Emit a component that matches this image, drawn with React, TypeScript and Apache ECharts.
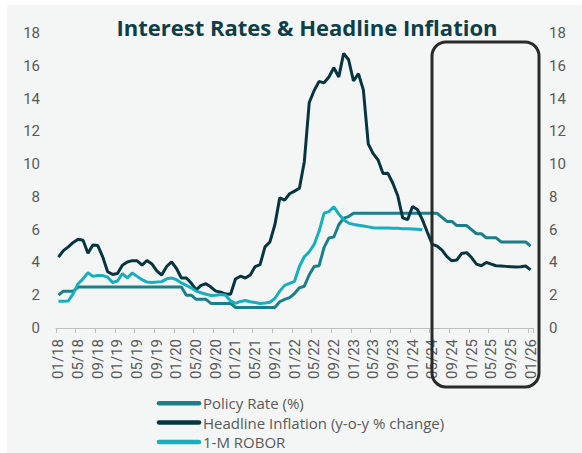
import React, { useEffect, useRef } from "react";
import * as echarts from "echarts";

const years = ["18", "19", "20", "21", "22", "23", "24", "25", "26"];
const months = ["01", "02", "03", "04", "05", "06", "07", "08", "09", "10", "11", "12"];
const categories: string[] = [];
years.forEach((y, yi) => {
  months.forEach((m, mi) => {
    if (yi < years.length - 1 || mi === 0) categories.push(`${m}/${y}`);
  });
});

const yTicks = [0, 18, 2];

const policyRate = [
  2.0, 2.25, 2.25, 2.25, 2.5, 2.5, 2.5, 2.5, 2.5, 2.5, 2.5, 2.5,
  2.5, 2.5, 2.5, 2.5, 2.5, 2.5, 2.5, 2.5, 2.5, 2.5, 2.5, 2.5,
  2.5, 2.5, 2.0, 2.0, 1.75, 1.75, 1.75, 1.5, 1.5, 1.5, 1.5, 1.5,
  1.25, 1.25, 1.25, 1.25, 1.25, 1.25, 1.25, 1.25, 1.25, 1.6, 1.75, 1.85,
  2.1, 2.45, 2.55, 3.25, 3.75, 3.8, 4.9, 5.5, 5.55, 6.3, 6.7, 6.8,
  7.0, 7.0, 7.0, 7.0, 7.0, 7.0, 7.0, 7.0, 7.0, 7.0, 7.0, 7.0,
  7.0, 7.0, 7.0, 7.0, 7.0, 7.0, 6.75, 6.5, 6.5, 6.25, 6.25, 6.25,
  6.0, 5.75, 5.75, 5.5, 5.5, 5.5, 5.25, 5.25, 5.25, 5.25, 5.25, 5.25,
  5.0,
];

const headlineInflation = [
  4.32, 4.72, 4.95, 5.22, 5.41, 5.36, 4.56, 5.07, 5.03, 4.34, 3.43, 3.27,
  3.32, 3.83, 4.03, 4.11, 4.1, 3.84, 4.12, 3.91, 3.49, 3.23, 3.75, 4.04,
  3.63, 3.05, 3.05, 2.74, 2.33, 2.6, 2.7, 2.5, 2.25, 2.19, 2.07, 2.06,
  2.99, 3.16, 3.05, 3.24, 3.75, 3.87, 4.95, 5.25, 6.29, 7.94, 7.8, 8.19,
  8.35, 8.53, 10.15, 13.76, 14.49, 15.05, 14.96, 15.32, 15.88, 15.32, 16.76, 16.37,
  15.07, 15.52, 14.53, 11.23, 10.64, 10.25, 9.43, 9.44, 8.83, 8.07, 6.72, 6.61,
  7.41, 7.23, 6.61, 5.86, 5.12, 5.0, 4.75, 4.35, 4.1, 4.15, 4.55, 4.6,
  4.3, 3.9, 3.8, 4.0, 3.9, 3.8, 3.78, 3.76, 3.74, 3.72, 3.74, 3.78,
  3.55,
];

const robor1m = [
  1.63, 1.63, 1.65, 2.1, 2.7, 3.0, 3.38, 3.15, 3.2, 3.2, 3.1, 2.78,
  2.87, 3.32, 3.06, 3.35, 3.15, 2.95, 2.8, 2.78, 2.8, 2.83, 3.0, 3.05,
  2.95, 2.75, 2.6, 2.45, 2.25, 2.15, 2.06, 1.98, 2.0, 2.04, 2.0, 1.65,
  1.5, 1.62, 1.68, 1.6, 1.55, 1.5, 1.53, 1.57, 1.8, 2.25, 2.6, 2.72,
  2.85, 3.75, 4.35, 4.65, 5.1, 5.9, 7.0, 7.1, 7.4, 6.95, 6.6, 6.4,
  6.32, 6.27, 6.22, 6.17, 6.12, 6.1, 6.1, 6.1, 6.09, 6.08, 6.06, 6.05,
  6.04, 6.03, 6.0,
];

const seriesNames = ["Policy Rate (%)", "Headline Inflation (y-o-y % change)", "1-M ROBOR"];
const seriesColors = ["#1A7F88", "#07353F", "#17AEC0"];
const titleText = "Interest Rates & Headline Inflation";

const FONT = "Roboto, 'Liberation Sans', sans-serif";

export default function App() {
  const ref = useRef<HTMLDivElement>(null);
  useEffect(() => {
    if (!ref.current) return;
    const chart = echarts.init(ref.current, undefined, { renderer: "svg" });
    const yAxisBase = {
      type: "value" as const,
      min: yTicks[0],
      max: yTicks[1],
      interval: yTicks[2],
      splitLine: { show: false },
      axisLine: { show: false },
      axisTick: { show: false },
      axisLabel: { color: "#595959", fontSize: 15, fontFamily: FONT, margin: 16 },
    };
    const legendTop = 403.2;
    const legendGap = 19.4;
    const legendGraphics: any[] = [];
    seriesNames.forEach((name, i) => {
      const y = legendTop + i * legendGap;
      legendGraphics.push({
        type: "line",
        shape: { x1: 159, y1: y, x2: 199, y2: y },
        style: { stroke: seriesColors[i], lineWidth: 4.5, lineCap: "round" },
        silent: true,
        z: 50,
      });
      legendGraphics.push({
        type: "text",
        x: 203,
        y: y,
        style: { text: name, fill: "#595959", font: `15px 'Open Sans', ${FONT}`, verticalAlign: "middle", align: "left" },
        silent: true,
        z: 50,
      });
    });
    chart.setOption({
      animation: false,
      backgroundColor: "#F4F6F6",
      textStyle: { fontFamily: FONT },
      grid: { left: 56, right: 49, top: 33, bottom: 125, containLabel: false },
      xAxis: {
        type: "category",
        data: categories,
        boundaryGap: true,
        axisLine: { lineStyle: { color: "#BFBFBF", width: 1 } },
        axisTick: { show: true, interval: 3, length: 5, lineStyle: { color: "#BFBFBF" } },
        axisLabel: {
          interval: 3,
          rotate: 90,
          color: "#595959",
          fontSize: 15,
          fontFamily: FONT,
          margin: 11,
        },
      },
      yAxis: [
        { ...yAxisBase, position: "left" },
        { ...yAxisBase, position: "right" },
      ],
      series: [
        { name: seriesNames[0], type: "line", data: policyRate, yAxisIndex: 0, showSymbol: false, symbol: "none", lineStyle: { width: 3, color: seriesColors[0] }, itemStyle: { color: seriesColors[0] } },
        { name: seriesNames[1], type: "line", data: headlineInflation, yAxisIndex: 0, showSymbol: false, symbol: "none", lineStyle: { width: 3, color: seriesColors[1] }, itemStyle: { color: seriesColors[1] } },
        { name: seriesNames[2], type: "line", data: robor1m, yAxisIndex: 0, showSymbol: false, symbol: "none", lineStyle: { width: 3, color: seriesColors[2] }, itemStyle: { color: seriesColors[2] } },
      ],
      graphic: [
        { type: "rect", left: 0, top: 0, shape: { width: 582, height: 5 }, style: { fill: "#FFFFFF" }, silent: true, z: 0 },
        { type: "rect", left: 0, top: 0, shape: { width: 7, height: 453 }, style: { fill: "#FFFFFF" }, silent: true, z: 0 },
        {
          type: "text",
          x: 307,
          y: 27,
          style: {
            text: titleText,
            fill: "#0E3E47",
            font: `bold 22px 'Open Sans', ${FONT}`,
            align: "center",
            verticalAlign: "middle",
          },
          z: 50,
        },
        ...legendGraphics,
        {
          type: "rect",
          shape: { x: 432, y: 42, width: 107, height: 345, r: 14 },
          style: { fill: "none", stroke: "#2A2A2A", lineWidth: 3 },
          silent: true,
          z: 100,
        },
      ],
    });
    return () => chart.dispose();
  }, []);
  return <div ref={ref} style={{ position: "fixed", left: 0, top: 0, width: 582, height: 453 }} />;
}
